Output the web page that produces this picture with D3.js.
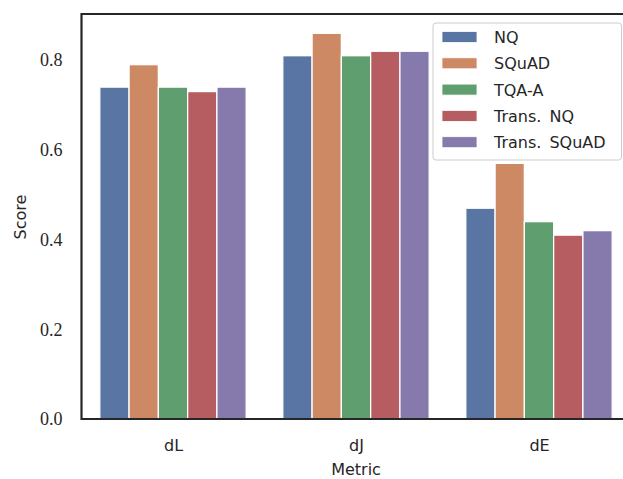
<!DOCTYPE html>
<html><head><meta charset="utf-8">
<script src="https://cdn.jsdelivr.net/npm/d3@7"></script>
<style>body{margin:0;background:#fff}svg{display:block}</style>
</head><body>
<svg id="c" width="623" height="479"></svg>
<script>
const categories = ["dL", "dJ", "dE"];
const seriesNames = ["NQ", "SQuAD", "TQA-A", "Trans. NQ", "Trans. SQuAD"];
const valuesNQ = [0.74, 0.81, 0.47];
const valuesSQuAD = [0.79, 0.86, 0.57];
const valuesTQA = [0.74, 0.81, 0.44];
const valuesTransNQ = [0.73, 0.82, 0.41];
const valuesTransSQuAD = [0.74, 0.82, 0.42];
const yTicks = [0.0, 0.2, 0.4, 0.6, 0.8];
const colors = ["#5975A4", "#CC8963", "#5F9E6E", "#B55D60", "#857AAB"];

const series = [valuesNQ, valuesSQuAD, valuesTQA, valuesTransNQ, valuesTransSQuAD];
const svg = d3.select("#c");
const mLeft = 81.5, mRight = 630.5, mTop = 14, mBottom = 419;
const x = d3.scaleLinear().domain([-0.5, 2.5]).range([mLeft, mRight]);
const y = d3.scaleLinear().domain([0, 0.903]).range([mBottom, mTop]);
const bw = 0.8 / series.length;
const SERIF = "'Liberation Serif', 'Times New Roman', serif";
const SANS = "'DejaVu Sans', sans-serif";

series.forEach((vals, si) => {
  svg.append("g").selectAll("rect").data(vals).join("rect")
    .attr("x", (d, i) => x(i - 0.4 + si * bw))
    .attr("width", x(bw) - x(0))
    .attr("y", d => y(d))
    .attr("height", d => y(0) - y(d))
    .attr("fill", colors[si])
    .attr("stroke", "#fff").attr("stroke-width", 1.3);
});

// axes
const yAxis = d3.axisLeft(y).tickValues(yTicks).tickFormat(d3.format(".1f")).tickSize(0).tickPadding(19);
const gy = svg.append("g").attr("transform", `translate(${mLeft},0)`).call(yAxis)
  .attr("font-family", SERIF).attr("font-size", 18);
gy.select(".domain").remove();
gy.selectAll("text").style("font-family", SERIF).style("font-size", "18px").attr("fill", "#262626");

const xAxis = d3.axisBottom(x).tickValues([0, 1, 2]).tickFormat(i => categories[i]).tickSize(0).tickPadding(21);
const gx = svg.append("g").attr("transform", `translate(0,${mBottom})`).call(xAxis)
  .attr("font-family", SANS).attr("font-size", 16);
gx.select(".domain").remove();
gx.selectAll("text").style("font-family", SANS).style("font-size", "16px").attr("fill", "#262626");

// spines
svg.append("path").attr("d", `M${mLeft},${mTop}H${mRight}M${mLeft},${mTop}V${mBottom}M${mLeft},${mBottom}H${mRight}`)
  .attr("stroke", "#262626").attr("stroke-width", 2.2).attr("fill", "none").attr("stroke-linecap", "square");

svg.append("text").attr("x", 356).attr("y", 475).attr("text-anchor", "middle")
  .style("font-family", SANS).style("font-size", "16px").attr("fill", "#262626").text("Metric");
svg.append("text").attr("transform", "translate(26,217) rotate(-90)").attr("text-anchor", "middle")
  .style("font-family", SANS).style("font-size", "16px").attr("fill", "#262626").text("Score");

// legend
const lg = svg.append("g");
lg.append("rect").attr("x", 433).attr("y", 23).attr("width", 188.5).attr("height", 137).attr("rx", 3)
  .attr("fill", "#fff").attr("fill-opacity", 0.8).attr("stroke", "#cccccc").attr("stroke-width", 1);
seriesNames.forEach((n, i) => {
  const cy = 37 + i * 26.3;
  lg.append("rect").attr("x", 442).attr("y", cy - 5.5).attr("width", 35).attr("height", 11).attr("fill", colors[i])
    .attr("stroke", "#fff").attr("stroke-width", 0.8);
  lg.append("text").attr("x", 494).attr("y", cy + 6).style("font-family", SANS)
    .style("font-size", "16px").style("word-spacing", "3px").attr("fill", "#262626").text(n);
});
</script>
</body></html>
